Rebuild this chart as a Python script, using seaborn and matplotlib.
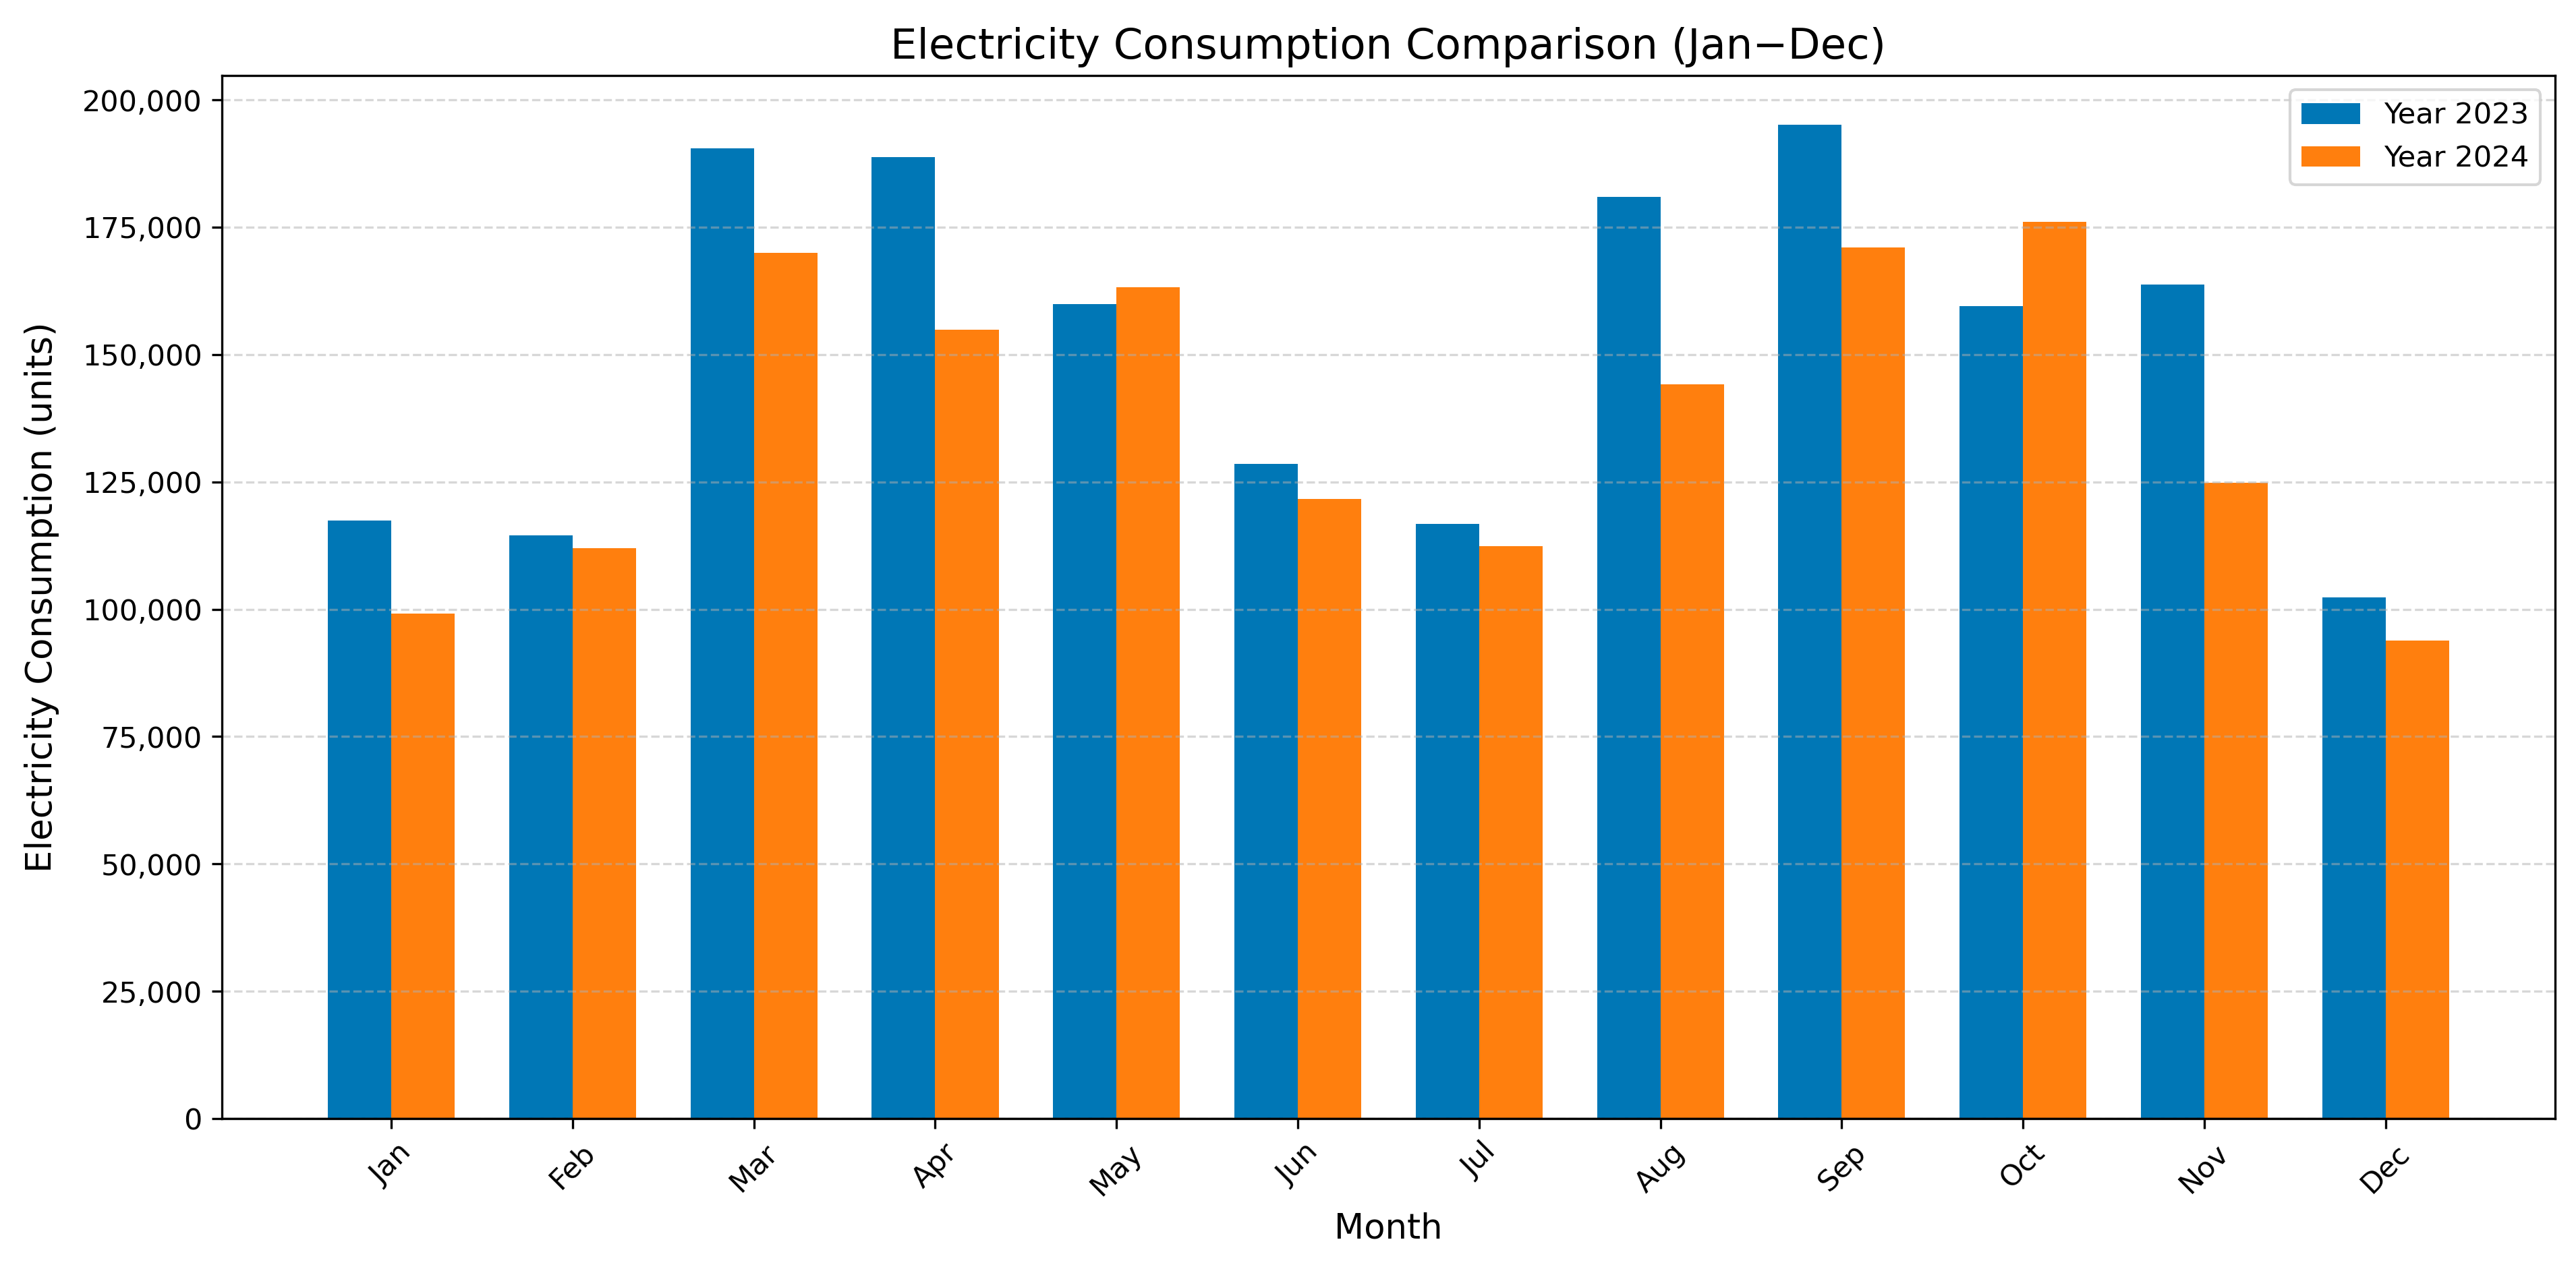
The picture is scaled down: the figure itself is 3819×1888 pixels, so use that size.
import pandas as pd
import matplotlib
matplotlib.use('Agg')
import matplotlib.pyplot as plt
from matplotlib.ticker import FuncFormatter
import seaborn as sns

#%%
# data
months = ['Jan', 'Feb', 'Mar', 'Apr', 'May', 'Jun',
          'Jul', 'Aug', 'Sep', 'Oct', 'Nov', 'Dec']

usage_2023 = [117400, 114500, 190500, 188700, 159900, 128500,
              116700, 181000, 195050, 159500, 163700, 102300]

usage_2024 = [99200, 112000, 170000, 154900, 163200, 121700,
              112400, 144100, 171000, 176000, 124800, 93800]

series_names = ['Year 2023', 'Year 2024']
colors = ['#0077b6', '#ff7f0e']

#%%
df = pd.DataFrame({
    'Month': months * 2,
    'Year': [series_names[0]] * len(months) + [series_names[1]] * len(months),
    'Usage': usage_2023 + usage_2024,
})

fig, ax = plt.subplots(figsize=(3819 / 300, 1888 / 300), dpi=300)
fig.subplots_adjust(left=0.0861, right=0.9919, top=0.9408, bottom=0.1213)

sns.barplot(data=df, x='Month', y='Usage', hue='Year', order=months,
            hue_order=series_names, palette=colors, saturation=1,
            width=0.7, linewidth=0, errorbar=None, ax=ax)

# same x range as a plain matplotlib bar chart (5% margins)
ax.set_xlim(-0.935, 11.935)
ax.set_ylim(0, 195050 * 1.05)

ax.set_title('Electricity Consumption Comparison (Jan\u2212Dec)', fontsize=15)
ax.set_xlabel('Month', fontsize=12.3)
ax.set_ylabel('Electricity Consumption (units)', fontsize=12.7, labelpad=8)
ax.yaxis.set_major_formatter(FuncFormatter(lambda v, p: '{:,.0f}'.format(v)))
ax.tick_params(labelsize=10.3)
plt.xticks(rotation=45)

ax.grid(axis='y', linestyle='--', alpha=0.5)
ax.axhline(0, color='black', linewidth=0.8)
ax.legend(loc='upper right', fontsize=10.4)

fig.savefig('out.png', dpi=300)
